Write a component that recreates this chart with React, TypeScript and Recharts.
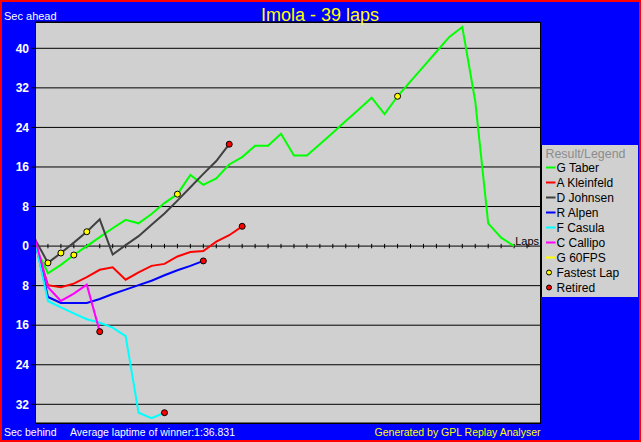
import { ComposedChart, Line, Scatter, XAxis, YAxis, CartesianGrid, ReferenceLine } from 'recharts';

// gap to the winner in seconds, one value per lap (positive = ahead)
const drivers = ['G Taber', 'A Kleinfeld', 'D Johnsen', 'R Alpen', 'F Casula', 'C Callipo', 'G 60FPS'];
const driverColors = ['#00ff00', '#ff0000', '#404040', '#0000ff', '#00ffff', '#ff00ff', '#ffff00'];

const taberGaps = [
  0, -5.5, -3.8, -1.8, 0, 1.8, 3.6, 5.3, 4.6, 6.5, 8.7, 10.5, 14.4, 12.4, 13.7, 16.5, 18.0, 20.3, 20.3, 22.7,
  18.3, 18.3, 20.6, 22.9, 25.3, 27.6, 30.0, 26.7, 30.3, 33.3, 36.3, 39.3, 42.3, 44.3, 29.3, 4.6, 1.7, 0,
];
const kleinfeldGaps = [0.5, -7.9, -8.3, -7.6, -6.3, -4.8, -4.3, -6.8, -5.3, -4.0, -3.6, -2.1, -1.2, -1.0, 0.9, 2.2, 4.0];
const johnsenGaps = [1.4, -3.4, -1.4, 0.7, 2.9, 5.4, -1.7, 0.2, 2.0, 4.3, 6.6, 9.2, 11.9, 14.6, 17.2, 20.6];
const alpenGaps = [1.0, -10.3, -11.5, -11.5, -11.5, -10.7, -9.7, -8.8, -7.9, -7.0, -5.9, -4.9, -4.0, -3.0];
const casulaGaps = [1.0, -11.1, -12.4, -13.6, -14.8, -15.5, -16.5, -18.2, -33.7, -34.8, -33.7];
const callipoGaps = [1.5, -8.3, -11.1, -9.6, -7.8, -17.3];
const fpsGaps: number[] = [];

const allGaps = [taberGaps, kleinfeldGaps, johnsenGaps, alpenGaps, casulaGaps, callipoGaps, fpsGaps];
const retiredDrivers = ['A Kleinfeld', 'D Johnsen', 'R Alpen', 'F Casula', 'C Callipo'];

const fastestLapDrivers = ['D Johnsen', 'D Johnsen', 'G Taber', 'D Johnsen', 'G Taber', 'G Taber'];
const fastestLapNumbers = [1, 2, 3, 4, 11, 28];

const yTicks = [-32, -24, -16, -8, 0, 8, 16, 24, 32, 40];
const lapTicks = Array.from({ length: 38 }, (_, i) => i + 1);

const FONT = '"Liberation Sans", Arial, sans-serif';

const toPoints = (gaps: number[]) => gaps.map((gap, lap) => ({ lap, gap }));

const retiredPoints = retiredDrivers.map((name) => {
  const gaps = allGaps[drivers.indexOf(name)];
  return { lap: gaps.length - 1, gap: gaps[gaps.length - 1] };
});

const fastestPoints = fastestLapDrivers.map((name, i) => {
  const lap = fastestLapNumbers[i];
  return { lap, gap: allGaps[drivers.indexOf(name)][lap] };
});

function YTick({ x, y, payload }: any) {
  return (
    <text x={x} y={y + 4.3} textAnchor="end" fill="#fff" fontWeight="bold" fontSize={12} fontFamily={FONT}>
      {Math.abs(payload.value)}
    </text>
  );
}

const marker = (fill: string) => (p: any) => (
  <circle cx={p.cx} cy={p.cy} r={3} fill={fill} stroke="#000" strokeWidth={1} />
);

export default function App() {
  return (
    <div
      style={{
        position: 'absolute',
        left: 0,
        top: 0,
        width: 641,
        height: 442,
        background: '#0000ff',
        fontFamily: FONT,
      }}
    >
      <ComposedChart width={641} height={442} margin={{ top: 22, right: 101, bottom: 19, left: 0 }}>
        <CartesianGrid vertical={false} stroke="#000" fill="#d0d0d0" />
        <XAxis type="number" dataKey="lap" domain={[0, 39]} hide allowDataOverflow />
        <YAxis
          type="number"
          domain={[-35.78, 45.32]}
          ticks={yTicks}
          width={35}
          tick={<YTick />}
          tickSize={4}
          stroke="#000"
          axisLine={false}
          allowDataOverflow
          interval={0}
        />
        {lapTicks.map((k) => (
          <ReferenceLine
            key={k}
            segment={[
              { x: k, y: -0.45 },
              { x: k, y: 0.45 },
            ]}
            stroke="#000"
          />
        ))}
        {allGaps.map((gaps, i) =>
          gaps.length ? (
            <Line
              key={drivers[i]}
              data={toPoints(gaps)}
              dataKey="gap"
              type="linear"
              stroke={driverColors[i]}
              strokeWidth={2}
              dot={false}
              isAnimationActive={false}
            />
          ) : null,
        )}
        <Scatter data={fastestPoints} dataKey="gap" shape={marker('#ffff00')} isAnimationActive={false} />
        <Scatter data={retiredPoints} dataKey="gap" shape={marker('#ff0000')} isAnimationActive={false} />
      </ComposedChart>

      <svg
        width={641}
        height={442}
        style={{ position: 'absolute', left: 0, top: 0, pointerEvents: 'none' }}
        fontFamily={FONT}
      >
        <rect x={1} y={1} width={639} height={440} fill="none" stroke="#ff0000" strokeWidth={2} />
        <rect x={35.5} y={22.5} width={505} height={401} fill="none" stroke="#000" strokeWidth={1} />
        <text x={320} y={21} textAnchor="middle" fill="#ffff00" fontSize={18}>
          Imola - 39 laps
        </text>
        <text x={4} y={20} fill="#fff" fontSize={11}>
          Sec ahead
        </text>
        <text x={4} y={435.5} fill="#fff" fontSize={10.5}>
          Sec behind
        </text>
        <text x={70} y={435.5} fill="#fff" fontSize={10.5}>
          Average laptime of winner:1:36.831
        </text>
        <text x={540.5} y={435.5} textAnchor="end" fill="#ffff00" fontSize={10.5}>
          Generated by GPL Replay Analyser
        </text>
        <text x={539} y={245} textAnchor="end" fill="#000" fontSize={11}>
          Laps
        </text>

        <rect x={542} y={145} width={96} height={152} fill="#d0d0d0" />
        <line x1={541.5} y1={145} x2={541.5} y2={297} stroke="#000" />
        <text x={545.5} y={157.5} fill="#8c8c8c" fontSize={12.4}>
          Result/Legend
        </text>
        {drivers.map((name, i) => (
          <g key={name}>
            <line x1={546} y1={167.5 + 15 * i} x2={555.5} y2={167.5 + 15 * i} stroke={driverColors[i]} strokeWidth={2} />
            <text x={556.5} y={172 + 15 * i} fill="#000" fontSize={12}>
              {name}
            </text>
          </g>
        ))}
        {[
          { label: 'Fastest Lap', fill: '#ffff00' },
          { label: 'Retired', fill: '#ff0000' },
        ].map((m, j) => {
          const i = drivers.length + j;
          return (
            <g key={m.label}>
              <circle cx={549} cy={167.5 + 15 * i} r={2.5} fill={m.fill} stroke="#000" />
              <text x={556.5} y={172 + 15 * i} fill="#000" fontSize={12}>
                {m.label}
              </text>
            </g>
          );
        })}
      </svg>
    </div>
  );
}
